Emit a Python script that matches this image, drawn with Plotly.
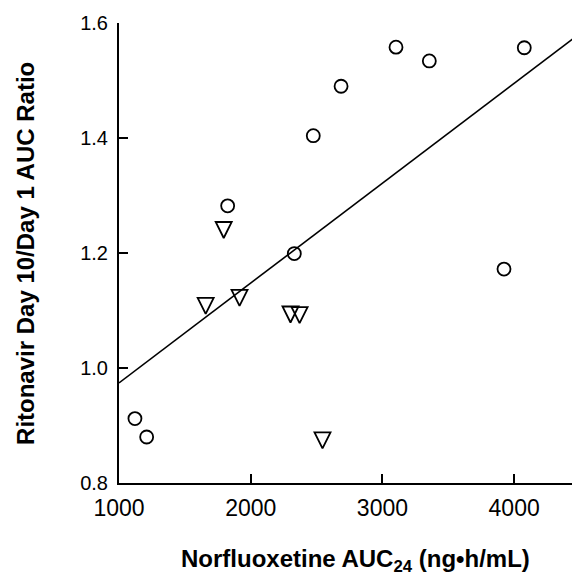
import plotly.graph_objects as go

# Circles (open)
circle_x = [2475, 2686, 3103, 3356, 4077, 1825, 2331, 3923, 1121, 1210]
circle_y = [1.404, 1.490, 1.558, 1.534, 1.557, 1.282, 1.199, 1.172, 0.912, 0.880]

# Triangles (open, pointing down)
tri_x = [1795, 1658, 1915, 2302, 2371, 2545]
tri_y = [1.240, 1.108, 1.122, 1.093, 1.092, 0.874]

# Regression line endpoints
line_x = [1000, 4500]
line_y = [0.974, 1.582]

x_ticks = [1000, 2000, 3000, 4000]
y_ticks = [0.8, 1.0, 1.2, 1.4, 1.6]
y_ticklabels = ["0.8", "1.0", "1.2", "1.4", "1.6"]

FONT = "Liberation Sans, Arial, Helvetica, sans-serif"

fig = go.Figure()
fig.add_trace(go.Scatter(x=line_x, y=line_y, mode="lines",
                         line=dict(color="black", width=1.6), showlegend=False,
                         hoverinfo="skip"))
fig.add_trace(go.Scatter(x=circle_x, y=circle_y, mode="markers",
                         marker=dict(symbol="circle-open", size=13, color="black",
                                     line=dict(width=1.8, color="black")),
                         showlegend=False))
fig.add_trace(go.Scatter(x=tri_x, y=tri_y, mode="markers",
                         marker=dict(symbol="arrow-down-open", size=16, standoff=8,
                                     color="black", line=dict(width=1.8, color="black")),
                         showlegend=False))

# page body has an 8px margin, so the figure is 572x572 and offset by 8px
fig.update_layout(
    width=572, height=572,
    margin=dict(l=111, r=0, t=15, b=97, autoexpand=False),
    paper_bgcolor="white", plot_bgcolor="white",
    font=dict(family=FONT, color="black"),
    xaxis=dict(range=[1000, 4500], tickvals=x_ticks, ticks="inside", ticklen=9,
               tickwidth=1.5, tickcolor="black", showline=True, linecolor="black",
               linewidth=2, showgrid=False, zeroline=False, automargin=False,
               tickfont=dict(size=23, family=FONT, color="black"),
               ticklabelstandoff=3),
    yaxis=dict(range=[0.8, 1.6], tickvals=y_ticks, ticktext=y_ticklabels,
               ticks="inside", ticklen=9,
               tickwidth=1.5, tickcolor="black", showline=True, linecolor="black",
               linewidth=2, showgrid=False, zeroline=False, automargin=False,
               tickfont=dict(size=20, family=FONT, color="black"),
               ticklabelstandoff=5),
    annotations=[
        dict(text="<b>Norfluoxetine AUC<sub>24</sub> (ng\u2022h/mL)</b>",
             xref="paper", yref="paper", x=0.512, y=-0.169,
             xanchor="center", yanchor="middle", showarrow=False,
             font=dict(size=24, family=FONT, color="black")),
        dict(text="<b>Ritonavir Day 10/Day 1 AUC Ratio</b>",
             xref="paper", yref="paper", x=-0.204, y=0.5, textangle=-90,
             xanchor="center", yanchor="middle", showarrow=False,
             font=dict(size=24, family=FONT, color="black")),
    ],
)

fig.write_html("out.html")
